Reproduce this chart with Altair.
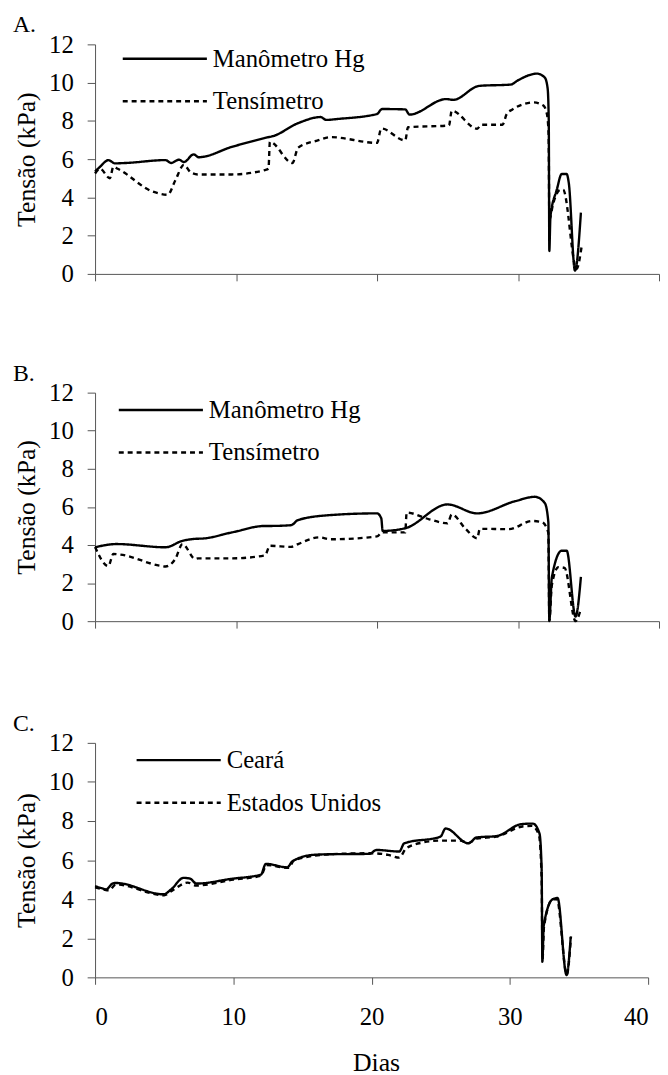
import altair as alt
import pandas as pd

FONT = "Liberation Serif"

# ---------------- Panel A ----------------
a_hg_x = [0, 0.35, 0.95, 1.4, 2.2, 5.0, 5.4, 5.95, 6.3, 7.0, 7.35, 9.7, 12.3, 12.6, 14.4, 16.0, 16.4, 17.2,
          20.0, 20.35, 22.0, 22.3, 24.9, 25.4, 27.25, 29.5, 29.95, 31.35, 31.9, 32.1, 32.18, 32.22, 32.3,
          32.75, 33.1, 33.45, 33.6, 34.04, 34.46]
a_hg_y = [5.35, 5.6, 5.95, 5.78, 5.8, 5.95, 5.8, 5.97, 5.85, 6.25, 6.1, 6.64, 7.15, 7.2, 7.88, 8.2, 8.05, 8.1,
          8.36, 8.62, 8.6, 8.33, 9.14, 9.1, 9.83, 9.9, 10.1, 10.47, 10.26, 9.7, 8.0, 1.2, 3.0,
          4.4, 5.22, 5.22, 4.76, 0.17, 3.2]
a_t_x = [0, 0.35, 1.05, 1.3, 1.6, 4.1, 5.15, 5.7, 6.3, 6.8, 7.3, 9.7, 12.05, 12.3, 12.4, 14.0, 14.4, 15.8,
         16.7, 20.0, 20.3, 22.0, 22.2, 25.1, 25.3, 27.1, 27.4, 28.9, 29.2, 29.6, 30.4, 31.1, 31.8, 32.05,
         32.17, 32.22, 32.5, 33.0, 33.2, 34.15, 34.5]
a_t_y = [5.25, 5.5, 5.0, 5.6, 5.5, 4.3, 4.14, 4.9, 5.7, 5.3, 5.2, 5.2, 5.43, 5.5, 6.9, 5.8, 6.6, 6.98,
         7.15, 6.85, 7.6, 6.98, 7.67, 7.76, 8.53, 7.59, 7.8, 7.8, 8.36, 8.6, 8.88, 8.97, 8.8, 8.36,
         7.3, 2.85, 3.7, 4.4, 4.4, 0.26, 1.38]

# ---------------- Panel B ----------------
b_hg_x = [0, 0.8, 1.5, 5.0, 6.2, 6.9, 7.8, 9.7, 12.05, 12.4, 13.9, 14.4, 16.5, 20.0, 20.3, 20.4, 22.0,
          25.0, 27.1, 29.8, 31.2, 31.9, 32.15, 32.22, 32.4, 33.1, 33.45, 34.08, 34.46]
b_hg_y = [3.88, 4.0, 4.05, 3.88, 4.22, 4.31, 4.35, 4.66, 5.0, 5.0, 5.04, 5.31, 5.56, 5.66, 5.4, 4.74, 4.88,
          6.13, 5.66, 6.3, 6.53, 6.2, 5.2, 0.05, 2.3, 3.7, 3.7, 0.24, 2.32]
b_t_x = [0, 0.94, 1.3, 1.75, 4.56, 5.0, 5.7, 6.2, 7.1, 7.3, 9.7, 12.05, 12.4, 13.9, 14.4, 15.9, 16.7,
         20.0, 20.35, 22.0, 22.1, 23.7, 25.0, 25.3, 26.3, 27.1, 27.3, 29.35, 31.0, 31.7, 32.15, 32.22,
         32.4, 32.87, 33.3, 34.08, 34.4]
b_t_y = [3.9, 2.89, 3.53, 3.5, 2.92, 2.87, 3.28, 4.05, 3.27, 3.3, 3.3, 3.45, 3.96, 3.9, 4.05, 4.4, 4.3,
         4.45, 4.66, 4.66, 5.7, 5.35, 5.14, 5.6, 4.83, 4.35, 4.85, 4.83, 5.26, 5.2, 4.64, 0.0,
         1.9, 2.84, 2.8, 0.0, 0.5]

# ---------------- Panel C ----------------
c_ce_x = [0, 0.54, 0.8, 1.26, 1.5, 4.96, 5.5, 6.4, 6.85, 7.34, 9.84, 12.0, 12.35, 13.9, 14.26, 15.8, 17.0,
          19.86, 20.34, 22.0, 22.36, 24.98, 25.35, 27.0, 27.6, 29.04, 30.83, 31.66, 32.14, 32.3, 32.35,
          32.45, 33.1, 33.45, 34.1, 34.4]
c_ce_y = [4.67, 4.55, 4.5, 4.8, 4.83, 4.25, 4.5, 5.09, 5.06, 4.8, 5.04, 5.26, 5.81, 5.63, 5.93, 6.27, 6.3,
          6.32, 6.52, 6.44, 6.86, 7.2, 7.62, 6.86, 7.16, 7.23, 7.84, 7.87, 7.37, 5.5, 0.8,
          2.65, 4.0, 4.06, 0.12, 2.06]
c_us_x = [0, 0.6, 1.0, 1.5, 5.0, 5.6, 6.7, 7.3, 10.0, 12.0, 12.4, 14.0, 14.4, 17.0, 20.0, 21.2, 22.0,
          22.5, 23.7, 25.0, 26.4, 27.0, 27.6, 29.0, 31.07, 31.6, 32.1, 32.3, 32.36, 32.47, 33.1, 33.4,
          34.12, 34.42]
c_us_y = [4.6, 4.5, 4.45, 4.75, 4.2, 4.45, 4.85, 4.7, 5.0, 5.2, 5.75, 5.6, 6.0, 6.3, 6.35, 6.27, 6.13,
          6.6, 6.9, 7.0, 7.0, 6.87, 7.1, 7.2, 7.74, 7.75, 7.3, 5.0, 0.9, 2.6, 4.0, 4.0,
          0.15, 2.1]

A_LABELS = ["Manômetro Hg", "Tensímetro"]
C_LABELS = ["Ceará", "Estados Unidos"]

X_TICKS = [0, 10, 20, 30, 40]
Y_TICKS = [0, 2, 4, 6, 8, 10, 12]


def frame(xs1, ys1, xs2, ys2, labels):
    rows = [{"dia": x, "tensao": y, "serie": labels[0]} for x, y in zip(xs1, ys1)]
    rows += [{"dia": x, "tensao": y, "serie": labels[1]} for x, y in zip(xs2, ys2)]
    return pd.DataFrame(rows)


AX = dict(domainColor="#555", tickColor="#555", domainWidth=1, tickWidth=1, grid=False,
          labelFont=FONT, labelFontSize=25, labelColor="black",
          titleFont=FONT, titleFontWeight="normal", titleColor="black")


def panel(df, labels, letter, width, height, bottom, legend_x, legend_y):
    if bottom:
        x_axis = alt.Axis(values=X_TICKS, title="Dias", labels=True, tickSize=7,
                          labelPadding=21, titleX=284, titleY=94, titleBaseline="alphabetic",
                          titleAlign="center", titleFontSize=26, **AX)
    else:
        x_axis = alt.Axis(values=X_TICKS, title=None, labels=False, tickSize=7, **AX)
    return alt.Chart(df).mark_line(color="black", strokeWidth=2.4, interpolate="monotone").encode(
        x=alt.X("dia:Q", scale=alt.Scale(domain=[0, 40], nice=False, zero=False), axis=x_axis),
        y=alt.Y("tensao:Q", scale=alt.Scale(domain=[0, 12], nice=False),
                axis=alt.Axis(values=Y_TICKS, title="Tensão (kPa)", tickSize=8, titleFontSize=26,
                              labelPadding=14, titlePadding=9, **AX)),
        strokeDash=alt.StrokeDash(
            "serie:N",
            scale=alt.Scale(domain=labels, range=[[1, 0], [5, 4]]),
            legend=alt.Legend(title=None, orient="none", legendX=legend_x, legendY=legend_y,
                              symbolType="M-4,0H4", symbolSize=452, symbolStrokeWidth=2.4,
                              symbolStrokeColor="black", symbolFillColor="transparent",
                              labelFont=FONT, labelFontSize=25,
                              labelColor="black", labelOffset=36, padding=0, symbolOffset=0,
                              rowPadding=17),
        ),
    ).properties(
        width=width, height=height,
        title=alt.Title(letter, anchor="start", dx=-1, offset=-24, fontSize=24, font=FONT,
                        fontWeight="normal", baseline="alphabetic", color="black"),
    )


pa = panel(frame(a_hg_x, a_hg_y, a_t_x, a_t_y, A_LABELS), A_LABELS, "A.", 570, 232, False, 58, 2)
pb = panel(frame(b_hg_x, b_hg_y, b_t_x, b_t_y, A_LABELS), A_LABELS, "B.", 570, 231, False, 54, 5)
pc = panel(frame(c_ce_x, c_ce_y, c_us_x, c_us_y, C_LABELS), C_LABELS, "C.", 559, 237, True, 72, 5)

top_two = alt.vconcat(pa, pb, spacing=76).resolve_scale(
    strokeDash="independent", x="independent", y="independent"
).resolve_legend(strokeDash="independent")

chart = alt.vconcat(top_two, pc, spacing=79).resolve_scale(
    strokeDash="independent", x="independent", y="independent"
).resolve_legend(strokeDash="independent").properties(
    padding={"left": 5, "top": 0, "right": 0, "bottom": 0}
).configure_view(stroke=None)

chart.save("out.html", embed_options={"renderer": "svg", "actions": False})
